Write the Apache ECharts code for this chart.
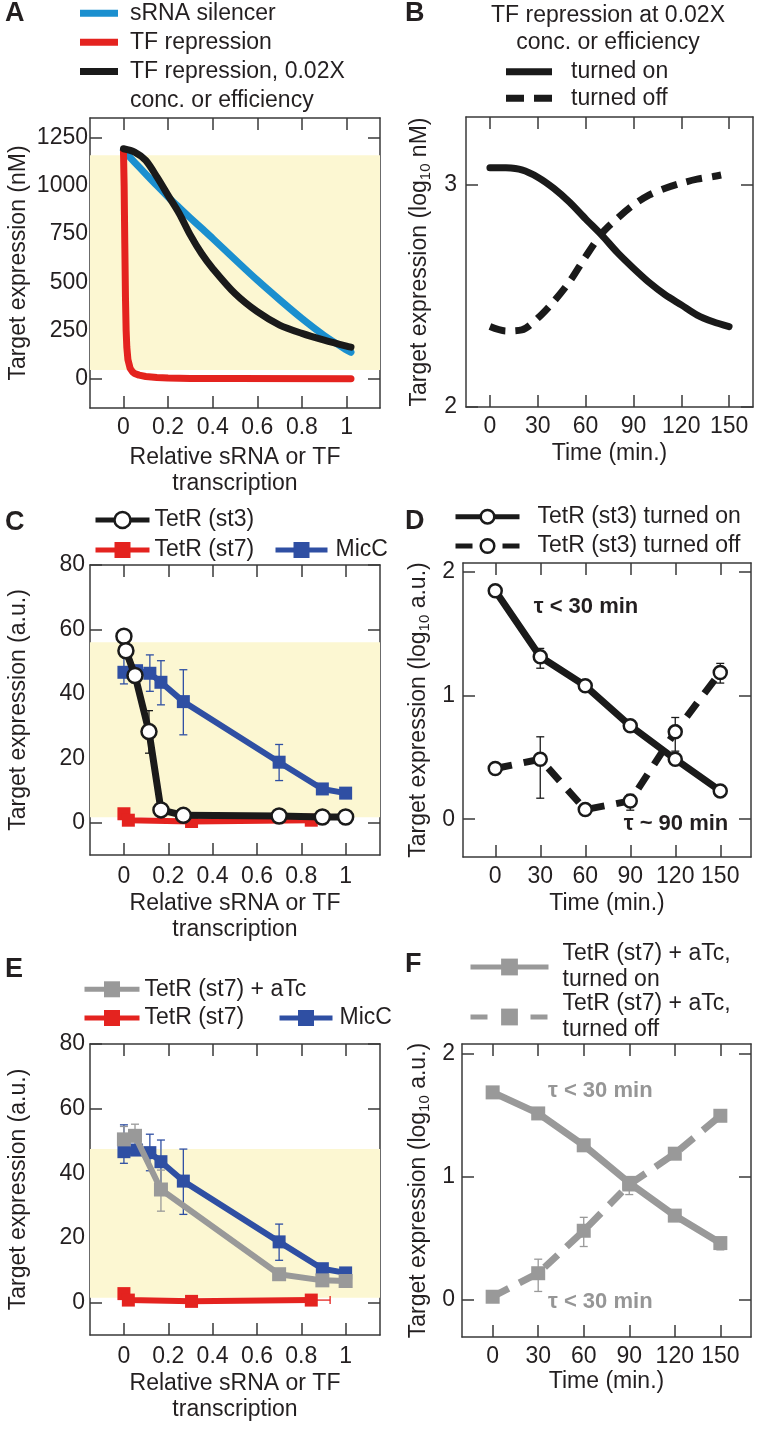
<!DOCTYPE html>
<html><head><meta charset="utf-8">
<script src="https://cdn.jsdelivr.net/npm/echarts@6/dist/echarts.min.js"></script>
<style>html,body{margin:0;padding:0;background:#fff}#c{width:760px;height:1430px}</style>
</head><body><div id="c"></div>
<script>
// ================= DATA =================
// Panel A (model, nM)
const aX      = [0, 0.05, 0.1, 0.15, 0.2, 0.25, 0.3, 0.35, 0.4, 0.5, 0.6, 0.7, 0.8, 0.9, 1.0, 1.02];
const aSrna   = [1183, 1121, 1060, 1000, 942, 887, 833, 780, 727, 618, 511, 410, 313, 225, 150, 138];
const aTfLow  = [1191, 1174, 1131, 1045, 950, 856, 744, 649, 572, 442, 348, 279, 236, 201, 170, 165];
const aTfX    = [0, 0.003, 0.006, 0.009, 0.012, 0.015, 0.02, 0.03, 0.04, 0.05, 0.07, 0.1, 0.15, 0.2, 0.3, 0.5, 1.02];
const aTf     = [1180, 1000, 700, 420, 250, 165, 100, 55, 38, 29, 20, 13, 8, 5, 3, 2, 1];
const aBand   = [46, 1157];
// Panel B (model, log10 nM)
const bT      = [0, 10, 20, 30, 40, 50, 60, 70, 80, 90, 100, 110, 120, 130, 140, 150];
const bOn     = [3.078, 3.077, 3.068, 3.035, 2.985, 2.922, 2.847, 2.775, 2.695, 2.625, 2.56, 2.505, 2.46, 2.414, 2.384, 2.362];
const bOffT   = [0, 10, 20, 30, 40, 50, 60, 70, 80, 90, 100, 110, 120, 130, 140, 145];
const bOff    = [2.362, 2.342, 2.347, 2.40, 2.475, 2.565, 2.677, 2.78, 2.85, 2.91, 2.955, 2.985, 3.008, 3.026, 3.038, 3.045];
// Panel C (a.u.)
const cSt3X   = [0, 0.009, 0.05, 0.113, 0.167, 0.268, 0.70, 0.895, 1.0];
const cSt3    = [57.9, 53.4, 45.7, 28.3, 4.0, 2.3, 2.1, 1.8, 1.8];
const cSt3ErrX = [0.113]; const cSt3Lo = [21.6]; const cSt3Hi = [34.8];
const st7X    = [0, 0.02, 0.305, 0.845];
const st7     = [2.8, 0.8, 0.4, 0.8];
const micX    = [0, 0.057, 0.117, 0.167, 0.268, 0.70, 0.895, 1.0];
const micY    = [46.7, 47.2, 46.4, 43.6, 37.6, 18.8, 10.5, 9.2];
const micErrX = [0, 0.117, 0.167, 0.268, 0.70];
const micLo   = [43.1, 40.8, 36.6, 27.3, 13.1];
const micHi   = [55.0, 52.1, 50.3, 47.5, 24.3];
const cBand   = [1.7, 56];
// Panel D (log10 a.u.)
const tPts    = [0, 30, 60, 90, 120, 150];
const dOn     = [1.846, 1.313, 1.078, 0.755, 0.485, 0.229];
const dOnErrX = [30]; const dOnLo = [1.22]; const dOnHi = [1.38];
const dOff    = [0.41, 0.485, 0.078, 0.148, 0.706, 1.186];
const dOffErrX = [30, 90, 120, 150];
const dOffLo  = [0.17, 0.073, 0.55, 1.10];
const dOffHi  = [0.666, 0.20, 0.822, 1.259];
const dNotes  = ['τ < 30 min', 'τ ~ 90 min'];
const dNoteX  = [60.5, 120.5];
const dNoteY  = [1.717, -0.035];
// Panel E (a.u.)
const eAtcX   = [0, 0.05, 0.167, 0.70, 0.895, 1.0];
const eAtc    = [50.5, 51.6, 35.0, 8.8, 6.9, 6.7];
const eAtcErrX = [0, 0.05, 0.167];
const eAtcLo  = [47.0, 48.0, 28.3];
const eAtcHi  = [54.5, 55.2, 41.0];
const eSt7ErrX = [0.845]; const eSt7ErrY = [0.8]; const eSt7ErrHi = [0.93];
const eBand   = [1.5, 47.5];
// Panel F (log10 a.u.)
const fOn     = [1.687, 1.516, 1.257, 0.952, 0.686, 0.463];
const fOnErrX = [90, 120, 150]; const fOnLo = [0.857, 0.64, 0.408]; const fOnHi = [1.0, 0.72, 0.50];
const fOff    = [0.027, 0.218, 0.563, 0.939, 1.189, 1.497];
const fOffErrX = [30, 60]; const fOffLo = [0.07, 0.435]; const fOffHi = [0.332, 0.672];
const fNotes  = ['τ < 30 min', 'τ < 30 min'];
const fNoteX  = [70.9, 70.9];
const fNoteY  = [1.70, -0.014];
// tick labels
const relTicks  = [0, 0.2, 0.4, 0.6, 0.8, 1];
const aYTicks   = [0, 250, 500, 750, 1000, 1250];
const bYTicks   = [2, 3];
const timeTicks = [0, 30, 60, 90, 120, 150];
const auTicks   = [0, 20, 40, 60, 80];
const logTicks  = [0, 1, 2];

// ================= STYLE =================
const FONT = '"Liberation Sans", Arial, Helvetica, sans-serif';
const TXT = '#231f20';
const AX = '#3a3a3a';
const C_SRNA = '#1b8fcf', C_RED = '#e4231f', C_BLK = '#1a1a1a', C_MIC = '#2f4fa3', C_GRAY = '#999999';
const BAND = '#fcf7d2';
const FS = 23;

const zip = (xs, ys) => xs.map((x, i) => [x, ys[i]]);

const grids = [
  {left: 90,  top: 118,  width: 290, height: 290},   // A
  {left: 466, top: 117,  width: 287, height: 290},   // B
  {left: 90,  top: 565,  width: 290, height: 290},   // C
  {left: 463, top: 563,  width: 288, height: 294},   // D
  {left: 90,  top: 1044, width: 290, height: 291},   // E
  {left: 462, top: 1044, width: 289, height: 293}    // F
].map(g => Object.assign(g, {containLabel: false, outerBoundsMode: 'none'}));

const xAxes = [], yAxes = [];
function tickStyle(vals) { return {show: true, inside: true, length: 12, customValues: vals, lineStyle: {color: AX, width: 1.5}}; }
const lineSt = {show: true, onZero: false, lineStyle: {color: AX, width: 1.5}};
const nameSt = {fontSize: FS, color: TXT, fontFamily: FONT, lineHeight: 26,
  rich: {sub: {fontSize: 15, lineHeight: 15, verticalAlign: 'bottom', color: TXT, fontFamily: FONT}}};
const fmt = v => String(v);
function addAxes(g, x, y) {
  xAxes.push({type: 'value', gridIndex: g, min: x.min, max: x.max, position: 'bottom',
    axisLine: lineSt, splitLine: {show: false}, axisTick: tickStyle(x.ticks),
    axisLabel: {customValues: x.ticks, formatter: fmt, margin: x.margin, fontSize: FS, color: TXT, fontFamily: FONT},
    name: x.name, nameLocation: 'middle', nameGap: x.gap, nameMoveOverlap: false, nameTextStyle: nameSt});
  xAxes.push({type: 'value', gridIndex: g, min: x.min, max: x.max, position: 'top',
    axisLine: lineSt, splitLine: {show: false}, axisTick: tickStyle(x.ticks), axisLabel: {show: false}});
  yAxes.push({type: 'value', gridIndex: g, min: y.min, max: y.max, position: 'left',
    axisLine: lineSt, splitLine: {show: false}, axisTick: tickStyle(y.ticks),
    axisLabel: {customValues: y.ticks, formatter: fmt, margin: y.margin, fontSize: FS, color: TXT, fontFamily: FONT},
    name: y.name, nameLocation: 'middle', nameGap: y.gap, nameMoveOverlap: false, nameTextStyle: nameSt});
  yAxes.push({type: 'value', gridIndex: g, min: y.min, max: y.max, position: 'right',
    axisLine: lineSt, splitLine: {show: false}, axisTick: tickStyle(y.ticks), axisLabel: {show: false}});
}
const relName = 'Relative sRNA or TF\ntranscription';
const timeName = 'Time (min.)';
addAxes(0, {min: -0.15, max: 1.15, ticks: relTicks, margin: 8, name: relName, gap: 37},
           {min: -150, max: 1350, ticks: aYTicks, margin: 2, name: 'Target expression (nM)', gap: 58});
addAxes(1, {min: -15, max: 165, ticks: timeTicks, margin: 8, name: timeName, gap: 34},
           {min: 2, max: 3.306, ticks: bYTicks, margin: 9, name: 'Target expression (log{sub|10} nM)', gap: 33});
addAxes(2, {min: -0.153, max: 1.155, ticks: relTicks, margin: 10, name: relName, gap: 36},
           {min: -10, max: 80, ticks: auTicks, margin: 5, name: 'Target expression (a.u.)', gap: 58});
addAxes(3, {min: -21.5, max: 170.5, ticks: timeTicks, margin: 8, name: timeName, gap: 34},
           {min: -0.305, max: 2.07, ticks: logTicks, margin: 8, name: 'Target expression (log{sub|10} a.u.)', gap: 31});
addAxes(4, {min: -0.153, max: 1.155, ticks: relTicks, margin: 10, name: relName, gap: 36},
           {min: -10, max: 80, ticks: auTicks, margin: 5, name: 'Target expression (a.u.)', gap: 58});
addAxes(5, {min: -20.2, max: 170.2, ticks: timeTicks, margin: 8, name: timeName, gap: 32},
           {min: -0.3, max: 2.08, ticks: logTicks, margin: 7, name: 'Target expression (log{sub|10} a.u.)', gap: 30});

function ax(g) { return {xAxisIndex: 2 * g, yAxisIndex: 2 * g}; }
function band(g, b) {
  return Object.assign({type: 'line', data: [], z: 1, silent: true, symbol: 'none',
    markArea: {silent: true, itemStyle: {color: BAND}, data: [[{yAxis: b[0]}, {yAxis: b[1]}]]}}, ax(g));
}
function errV(g, xs, lo, hi, color, cap) {
  return Object.assign({type: 'custom', z: 2, silent: true, encode: {x: 0, y: [1, 2]},
    data: xs.map((x, i) => [x, lo[i], hi[i]]),
    renderItem: (p, api) => {
      const a = api.coord([api.value(0), api.value(1)]), b = api.coord([api.value(0), api.value(2)]);
      const st = {stroke: color, lineWidth: 1.3};
      return {type: 'group', children: [
        {type: 'line', shape: {x1: a[0], y1: a[1], x2: b[0], y2: b[1]}, style: st},
        {type: 'line', shape: {x1: a[0] - cap, y1: a[1], x2: a[0] + cap, y2: a[1]}, style: st},
        {type: 'line', shape: {x1: b[0] - cap, y1: b[1], x2: b[0] + cap, y2: b[1]}, style: st}]};
    }}, ax(g));
}
function errH(g, xs, ys, hi, color, cap) {
  return Object.assign({type: 'custom', z: 2, silent: true, encode: {x: [0, 2], y: 1},
    data: xs.map((x, i) => [x, ys[i], hi[i]]),
    renderItem: (p, api) => {
      const a = api.coord([api.value(0), api.value(1)]), b = api.coord([api.value(2), api.value(1)]);
      const st = {stroke: color, lineWidth: 1.3};
      return {type: 'group', children: [
        {type: 'line', shape: {x1: a[0], y1: a[1], x2: b[0], y2: b[1]}, style: st},
        {type: 'line', shape: {x1: b[0], y1: b[1] - cap, x2: b[0], y2: b[1] + cap}, style: st}]};
    }}, ax(g));
}
function curve(g, name, xs, ys, color, width, z, extra) {
  return Object.assign({type: 'line', name, data: zip(xs, ys), symbol: 'none', z,
    lineStyle: {color, width, cap: 'round', join: 'round'}, itemStyle: {color}}, ax(g), extra || {});
}
function marked(g, name, xs, ys, color, width, z, sym, size, open, dash) {
  return Object.assign({type: 'line', name, data: zip(xs, ys), symbol: sym, symbolSize: size, showSymbol: true, z,
    lineStyle: {color, width, type: dash || 'solid', join: 'round'},
    itemStyle: open ? {color: '#fff', borderColor: color, borderWidth: 2.5} : {color, borderWidth: 0}}, ax(g));
}
function notes(g, xs, ys, labels, color) {
  return Object.assign({type: 'scatter', symbolSize: 0, silent: true, z: 10,
    itemStyle: {opacity: 1},
    data: xs.map((x, i) => ({value: [x, ys[i]], name: labels[i]})),
    label: {show: true, position: 'inside', formatter: p => p.name, fontSize: 22, fontWeight: 'bold', color, opacity: 1, fontFamily: FONT}}, ax(g));
}

const series = [
  // A
  band(0, aBand),
  curve(0, 'sRNA silencer', aX, aSrna, C_SRNA, 7, 3, {smooth: 0.3}),
  curve(0, 'TF repression', aTfX, aTf, C_RED, 7, 4),
  curve(0, 'TF repression, 0.02X', aX, aTfLow, C_BLK, 7, 5, {smooth: 0.3}),
  // B
  curve(1, 'turned on', bT, bOn, C_BLK, 7, 3, {smooth: 0.3}),
  curve(1, 'turned off', bOffT, bOff, C_BLK, 7, 3, {smooth: 0.3, lineStyle: {color: C_BLK, width: 7, type: [16, 10], cap: 'butt'}}),
  // C
  band(2, cBand),
  errV(2, micErrX, micLo, micHi, C_MIC, 4),
  errV(2, cSt3ErrX, cSt3Lo, cSt3Hi, C_BLK, 4),
  marked(2, 'MicC', micX, micY, C_MIC, 6, 3, 'rect', 13),
  marked(2, 'TetR (st7)', st7X, st7, C_RED, 6, 4, 'rect', 13),
  marked(2, 'TetR (st3)', cSt3X, cSt3, C_BLK, 7, 5, 'circle', 15, true),
  // D
  errV(3, dOnErrX, dOnLo, dOnHi, C_BLK, 4),
  errV(3, dOffErrX, dOffLo, dOffHi, C_BLK, 4),
  marked(3, 'TetR (st3) turned off', tPts, dOff, C_BLK, 7, 3, 'circle', 13, true, [17, 12]),
  marked(3, 'TetR (st3) turned on', tPts, dOn, C_BLK, 7, 4, 'circle', 13, true),
  notes(3, dNoteX, dNoteY, dNotes, '#231f20'),
  // E
  band(4, eBand),
  errV(4, micErrX, micLo, micHi, C_MIC, 4),
  errV(4, eAtcErrX, eAtcLo, eAtcHi, C_GRAY, 4),
  errH(4, eSt7ErrX, eSt7ErrY, eSt7ErrHi, C_RED, 4),
  marked(4, 'TetR (st7)', st7X, st7, C_RED, 6, 3, 'rect', 13),
  marked(4, 'MicC', micX, micY, C_MIC, 6, 4, 'rect', 13),
  marked(4, 'TetR (st7) + aTc', eAtcX, eAtc, C_GRAY, 6, 5, 'rect', 14),
  // F
  errV(5, fOnErrX, fOnLo, fOnHi, C_GRAY, 4),
  errV(5, fOffErrX, fOffLo, fOffHi, C_GRAY, 4),
  marked(5, 'TetR (st7) + aTc,\nturned off', tPts, fOff, C_GRAY, 7, 3, 'rect', 14, false, [18, 12]),
  marked(5, 'TetR (st7) + aTc,\nturned on', tPts, fOn, C_GRAY, 7, 4, 'rect', 14),
  notes(5, fNoteX, fNoteY, fNotes, '#969696')
];

// ================= LEGENDS =================
const LH = 26;
function lg(name, left, cy, w, h, opts) {
  const lines = name.split('\n').length;
  const o = {data: [name], left, top: cy - (lines * LH) / 2, orient: 'horizontal', padding: 0,
    itemWidth: w, itemHeight: h, selectedMode: false,
    textStyle: {fontSize: FS, color: TXT, fontFamily: FONT, lineHeight: LH, padding: [0, 0, 0, (opts && opts.pad) || 0]}};
  if (opts) {
    if (opts.icon) o.icon = opts.icon;
    if (opts.itemStyle) o.itemStyle = opts.itemStyle;
    if (opts.lineStyle) o.lineStyle = opts.lineStyle;
  }
  return o;
}
const rectIcon = {icon: 'rect', itemStyle: {borderWidth: 0}, pad: 7};
const openCirc = {color: '#fff', borderColor: C_BLK, borderWidth: 2.5};
const legends = [
  lg('sRNA silencer', 80, 13.3, 38, 7, rectIcon),
  lg('TF repression', 80, 42.3, 38, 7, rectIcon),
  lg('TF repression, 0.02X', 80, 71.5, 38, 7, rectIcon),
  lg('turned on', 506, 71.7, 46, 7, {icon: 'rect', itemStyle: {borderWidth: 0}, pad: 14}),
  lg('turned off', 506, 98.3, 46, 7, {icon: 'path://M0,0H18V7H0Z M28,0H46V7H28Z', itemStyle: {borderWidth: 0}, pad: 14}),
  lg('TetR (st3)', 93, 520, 54, 20, {itemStyle: openCirc, lineStyle: {width: 5}}),
  lg('TetR (st7)', 93, 550, 54, 20, {itemStyle: {borderWidth: 0}, lineStyle: {width: 5}}),
  lg('MicC', 273, 550, 52, 20, {itemStyle: {borderWidth: 0}, lineStyle: {width: 5}, pad: 3}),
  lg('TetR (st3) turned on', 453, 516.7, 64, 17, {itemStyle: openCirc, lineStyle: {width: 5}, pad: 13}),
  lg('TetR (st3) turned off', 453, 546, 64, 17, {itemStyle: openCirc, lineStyle: {width: 5, type: [17, 30]}, pad: 13}),
  lg('TetR (st7) + aTc', 82, 989.3, 55, 20, {itemStyle: {borderWidth: 0}, lineStyle: {width: 5}}),
  lg('TetR (st7)', 82, 1018, 55, 20, {itemStyle: {borderWidth: 0}, lineStyle: {width: 5}}),
  lg('MicC', 277, 1018, 53, 20, {itemStyle: {borderWidth: 0}, lineStyle: {width: 5}, pad: 2}),
  lg('TetR (st7) + aTc,\nturned on', 468, 967, 78, 21, {itemStyle: {borderWidth: 0}, lineStyle: {width: 5}, pad: 9}),
  lg('TetR (st7) + aTc,\nturned off', 468, 1017, 78, 21, {itemStyle: {borderWidth: 0}, lineStyle: {width: 5, type: [17, 43]}, pad: 9})
];

// ================= TEXT =================
function txt(text, x, y, size, weight, align, lh) {
  return {type: 'text', x, y, silent: true, style: {text, fontSize: size, fontWeight: weight || 'normal', fontFamily: FONT,
    fill: TXT, align: align || 'left', verticalAlign: 'middle', lineHeight: lh || size}};
}
const graphics = [
  txt('A', 5, 13.5, 27, 'bold'),
  txt('B', 405, 13.5, 27, 'bold'),
  txt('C', 5, 523, 27, 'bold'),
  txt('D', 405, 522, 27, 'bold'),
  txt('E', 5, 970, 27, 'bold'),
  txt('F', 405, 965, 27, 'bold'),
  txt('conc. or efficiency', 130, 101, FS),
  txt('TF repression at 0.02X\nconc. or efficiency', 608, 29.5, FS, 'normal', 'center', 27)
];

const chart = echarts.init(document.getElementById('c'), null, {renderer: 'canvas'});
chart.setOption({
  animation: false,
  backgroundColor: '#fff',
  textStyle: {fontFamily: FONT},
  grid: grids, xAxis: xAxes, yAxis: yAxes,
  legend: legends, series, graphic: graphics
});
</script></body></html>
